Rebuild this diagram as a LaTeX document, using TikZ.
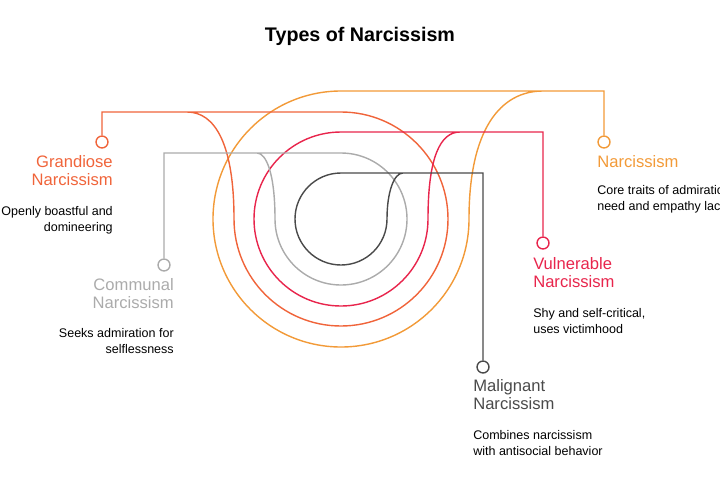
\documentclass[tikz,border=0pt]{standalone}
\usepackage{fontspec}
\setmainfont{Liberation Sans}
\usetikzlibrary{positioning}
\definecolor{orangeC}{HTML}{F29A38}
\definecolor{grandC}{HTML}{F0643A}
\definecolor{redC}{HTML}{E8254C}
\definecolor{grayC}{HTML}{ABABAB}
\definecolor{darkC}{HTML}{4A4A4A}
\begin{document}
\begin{tikzpicture}[x=0.025cm,y=0.025cm]
		\tikzstyle{marker}=[circle,draw,fill=white,line width=1pt,minimum size=8.5pt,inner sep=0pt]
		\tikzstyle{loop}=[line width=1pt]
		\tikzstyle{head}=[font=\fontsize{11.8}{13.2}\selectfont,inner sep=0pt]
		\tikzstyle{desc}=[font=\fontsize{8.9}{11.2}\selectfont,inner sep=0pt,text=black]
		\useasboundingbox (0,0) rectangle (720,-480);
		\node [font=\bfseries\fontsize{14}{16}\selectfont] at (360,-36) (title) {Types of Narcissism};
		% markers
		\node [marker,draw=grandC] at (102,-142) (m1) {};
		\node [marker,draw=orangeC] at (604,-142) (m2) {};
		\node [marker,draw=grayC] at (164,-265) (m3) {};
		\node [marker,draw=redC] at (543,-243) (m4) {};
		\node [marker,draw=darkC] at (483,-367) (m5) {};
		% loops
		\draw [loop,color=orangeC] (m2.north) |- (341,-91) arc[start angle=90,end angle=360,radius=128] .. controls (469,-130) and (500,-91) .. (543,-91);
		\draw [loop,color=grandC] (m1.north) |- (341,-112) arc[start angle=90,end angle=-180,radius=107] .. controls (234,-144) and (215,-112) .. (187,-112);
		\draw [loop,color=redC] (m4.north) |- (341,-132) arc[start angle=90,end angle=360,radius=87] .. controls (428,-158) and (440,-132) .. (460,-132);
		\draw [loop,color=grayC] (m3.north) |- (341,-153) arc[start angle=90,end angle=-180,radius=66] .. controls (275,-173) and (266,-153) .. (257,-153);
		\draw [loop,color=darkC] (m5.north) |- (341,-173) arc[start angle=90,end angle=360,radius=46] .. controls (387,-192) and (394,-173) .. (403,-173);
		% labels
		\node [head,color=grandC,align=right,anchor=north east] at (113,-155) (t1) {Grandiose\\Narcissism};
		\node [desc,align=right,anchor=north east] at (113,-206) (d1) {Openly boastful and\\domineering};
		\node [head,color=orangeC,align=left,anchor=north west] at (597,-155) (t2) {Narcissism};
		\node [desc,align=left,anchor=north west] at (597,-185) (d2) {Core traits of admiration\\need and empathy lack};
		\node [head,color=grayC,align=right,anchor=north east] at (174,-278) (t3) {Communal\\Narcissism};
		\node [desc,align=right,anchor=north east] at (174,-328) (d3) {Seeks admiration for\\selflessness};
		\node [head,color=redC,align=left,anchor=north west] at (533,-257) (t4) {Vulnerable\\Narcissism};
		\node [desc,align=left,anchor=north west] at (533,-308) (d4) {Shy and self-critical,\\uses victimhood};
		\node [head,color=darkC,align=left,anchor=north west] at (473,-379) (t5) {Malignant\\Narcissism};
		\node [desc,align=left,anchor=north west] at (473,-430) (d5) {Combines narcissism\\with antisocial behavior};
	\end{tikzpicture}
\end{document}
